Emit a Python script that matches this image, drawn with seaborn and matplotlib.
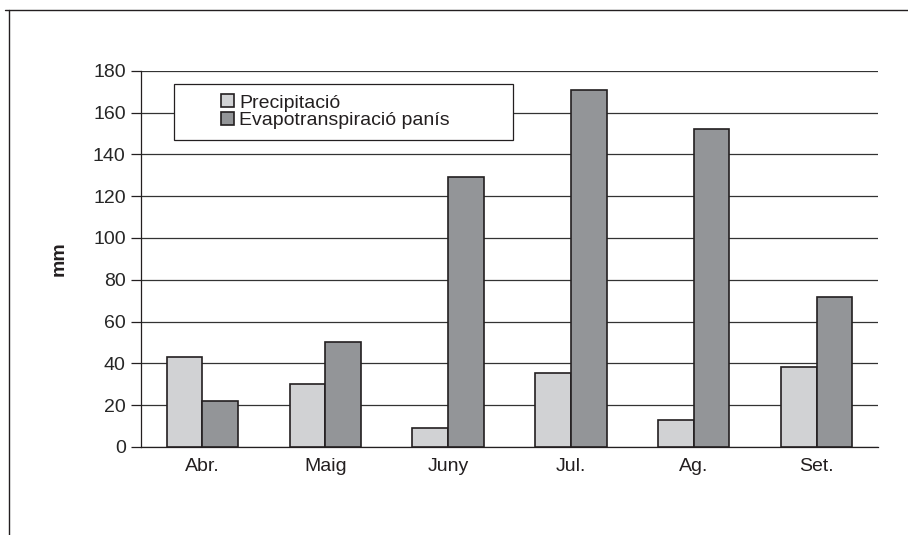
import pandas as pd
import matplotlib.pyplot as plt
import seaborn as sns
from matplotlib.lines import Line2D
from matplotlib.patches import Rectangle

# Data
months = ['Abr.', 'Maig', 'Juny', 'Jul.', 'Ag.', 'Set.']
precipitacio = [43, 30, 9, 35.5, 13, 38.5]
evapotranspiracio = [22, 50, 129, 171, 152, 72]
series_names = ['Precipitació', 'Evapotranspiració panís']
series_colors = ['#d1d2d4', '#939598']

df = pd.DataFrame({
    'month': months * 2,
    'serie': [series_names[0]] * len(months) + [series_names[1]] * len(months),
    'mm': precipitacio + evapotranspiracio,
})

sns.set_style('white')
plt.rcParams['font.family'] = ['Liberation Sans', 'DejaVu Sans']
ink = '#231f20'

fig = plt.figure(figsize=(9.08, 5.35), dpi=100)
ax = fig.add_axes([0.1553, 0.1645, 0.8117, 0.7032])

sns.barplot(data=df, x='month', y='mm', hue='serie', order=months,
            hue_order=series_names, palette=series_colors, width=0.58, gap=0,
            edgecolor=ink, linewidth=1.2, saturation=1, ax=ax, zorder=3)

# axes styling
ax.set_xlim(-0.5, len(months) - 0.5)
ax.set_ylim(0, 180)
ax.set_yticks(range(0, 181, 20))
ax.yaxis.grid(True, color='#333333', linewidth=0.9)
ax.set_axisbelow(True)
for s in ['top', 'right']:
    ax.spines[s].set_visible(False)
for s in ['left', 'bottom']:
    ax.spines[s].set_color(ink)
    ax.spines[s].set_linewidth(0.9)

ax.set_xticks([i - 0.5 for i in range(len(months) + 1)], minor=True)
ax.tick_params(axis='x', which='major', length=0, pad=8, labelsize=14, colors=ink)
ax.tick_params(axis='x', which='minor', length=7, width=0.9, color=ink, direction='out')
ax.tick_params(axis='y', length=7, width=0.9, color=ink, direction='out',
               labelsize=14, pad=4, left=True)
ax.set_xlabel('')
ax.set_ylabel('mm', fontsize=14, fontweight='bold', labelpad=18, color=ink)

# legend box (Excel style: wide frame, entries inset)
box_x0, box_y1 = (174 - 141) / 737, (447 - 84) / 376
box_w, box_h = (513 - 174) / 737, 56 / 376
ax.add_patch(Rectangle((box_x0, box_y1 - box_h), box_w, box_h, transform=ax.transAxes,
                       facecolor='white', edgecolor=ink, linewidth=0.9, zorder=4))
leg = ax.legend(loc='center left', bbox_to_anchor=((221 - 141) / 737, box_y1 - box_h / 2),
                fontsize=14, frameon=False, borderaxespad=0, borderpad=0,
                handlelength=0.65, handleheight=0.65, handletextpad=0.3,
                labelspacing=0.0)
for t in leg.get_texts():
    t.set_color(ink)
leg.set_zorder(5)

# outer frame (top and left edges visible)
fig.add_artist(Line2D([5 / 908, 1], [1 - 10 / 535, 1 - 10 / 535], color=ink, linewidth=1))
fig.add_artist(Line2D([9 / 908, 9 / 908], [0, 1 - 10 / 535], color=ink, linewidth=1))

fig.savefig('out.png', dpi=100)
